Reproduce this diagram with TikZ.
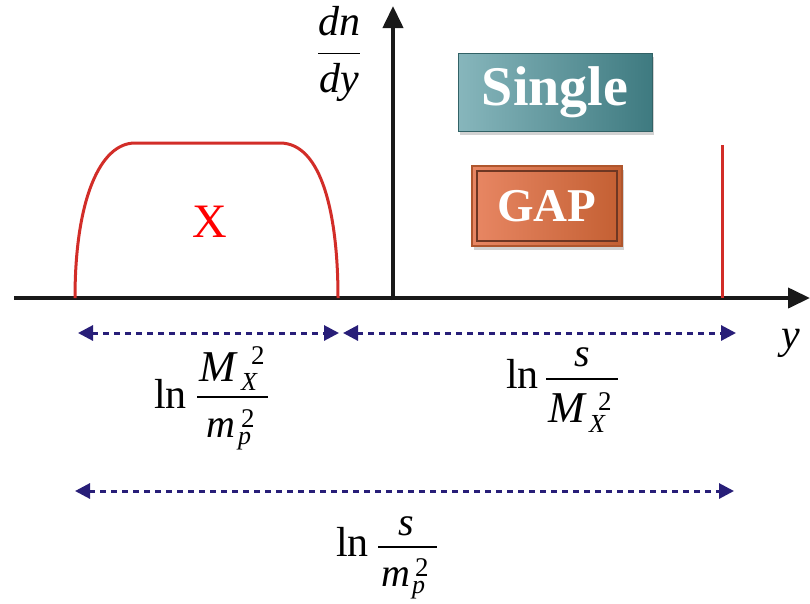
\RequirePackage{fix-cm}
\documentclass[tikz,border=0pt]{standalone}
\usepackage{amsmath}
\usepackage{fontspec}
\setmainfont{Liberation Serif}
\usetikzlibrary{arrows.meta,shadows}
\definecolor{curvered}{RGB}{210,45,40}
\definecolor{navy}{RGB}{40,30,120}
\definecolor{tealL}{RGB}{135,182,188}
\definecolor{tealD}{RGB}{62,122,128}
\definecolor{orL}{RGB}{232,135,100}
\definecolor{orD}{RGB}{195,95,50}
\definecolor{orB}{RGB}{110,55,35}
\tikzset{
  axis/.style={line width=4pt,black!90,-{Triangle[length=22pt,width=20pt]}},
  dimarrow/.style={line width=3pt,navy,dash pattern=on 6pt off 5pt,{Triangle[length=15pt,width=15pt]}-{Triangle[length=15pt,width=15pt]}},
  lnsty/.style={font=\fontsize{42}{44}\selectfont,inner sep=0pt,anchor=base west},
  bigit/.style={font=\fontsize{40}{42}\selectfont\itshape,inner sep=0pt,anchor=base west},
  bigM/.style={font=\fontsize{44}{46}\selectfont\itshape,inner sep=0pt,anchor=base west},
  smit/.style={font=\fontsize{26}{28}\selectfont\itshape,inner sep=0pt,anchor=base west},
  smrm/.style={font=\fontsize{27}{29}\selectfont,inner sep=0pt,anchor=base west},
  fracrule/.style={line width=2.2pt},
  badge/.style={font=\fontsize{#1}{#1}\selectfont\bfseries,text=white,inner sep=0pt},
}
\begin{document}
\begin{tikzpicture}[x=1pt,y=-1pt]
\useasboundingbox[fill=white] (0,0) rectangle (810,603);
% axes
\coordinate (xs) at (14,298);
\coordinate (xe) at (810,298);
\coordinate (ys) at (393,300);
\coordinate (ye) at (393,6);
\draw[axis] (xs) -- (xe);
\draw[axis] (ys) -- (ye);
% red curve
\coordinate (c0) at (75,298);
\coordinate (c1) at (135,143);
\coordinate (c2) at (280,143);
\coordinate (c3) at (338,298);
\draw[curvered,line width=3pt] (c0) .. controls (75,200) and (100,143) .. (c1) -- (c2) .. controls (322,143) and (338,215) .. (c3);
\node[text=red,font=\fontsize{48}{48}\selectfont] (X) at (210,222) {X};
% red spike
\coordinate (r0) at (722,145);
\coordinate (r1) at (722,298);
\draw[curvered,line width=3pt] (r0) -- (r1);
% axis labels
\node[font=\fontsize{42}{46}\selectfont,inner sep=0pt] (dndy) at (339,54) {$\dfrac{\textit{dn}}{\textit{dy}}$};
\node[font=\fontsize{42}{46}\selectfont,inner sep=0pt] (ylab) at (791,343) {\textit{y}};
% boxes
\node[drop shadow={shadow xshift=2pt,shadow yshift=-4pt,opacity=0.35},left color=tealL,right color=tealD,draw=tealD!80!black,line width=1pt,minimum width=194pt,minimum height=78pt,inner sep=0pt] (single) at (555,92) {};
\node[badge=56] at (single.center) {Single};
\node[drop shadow={shadow xshift=2pt,shadow yshift=-4pt,opacity=0.35},left color=orL,right color=orD,draw=orD!90!black,line width=2pt,minimum width=150pt,minimum height=80pt,inner sep=0pt] (gap) at (547,206) {};
\draw[orB,line width=1.5pt] ([shift={(6pt,6pt)}]gap.south west) rectangle ([shift={(-6pt,-6pt)}]gap.north east);
\node[badge=47] at (gap.center) {GAP};
% dimension arrows
\coordinate (a1) at (78,333);
\coordinate (a2) at (339,333);
\coordinate (a3) at (343,333);
\coordinate (a4) at (736,333);
\coordinate (b1) at (75,491);
\coordinate (b2) at (734,491);
\draw[dimarrow] (a1) -- (a2);
\draw[dimarrow] (a3) -- (a4);
\draw[dimarrow] (b1) -- (b2);
% label 1: ln M_X^2 / m_p^2
\node[lnsty] (l1ln) at (154,408) {ln};
\coordinate (l1a) at (197,397);
\coordinate (l1b) at (268,397);
\draw[fracrule] (l1a) -- (l1b);
\node[bigM] (l1M) at (199,381) {M};
\node[smrm] (l1s2) at (251,364) {2};
\node[smit] (l1X) at (241,390) {X};
\node[bigit] (l1m) at (206,437) {m};
\node[smrm] (l1d2) at (241,427) {2};
\node[smit] (l1p) at (238,444) {p};
% label 2: ln s / M_X^2
\node[lnsty] (l2ln) at (506,388) {ln};
\coordinate (l2a) at (546,379);
\coordinate (l2b) at (618,379);
\draw[fracrule] (l2a) -- (l2b);
\node[bigit] (l2s) at (574,366) {s};
\node[bigM] (l2M) at (548,422) {M};
\node[smrm] (l2d2) at (598,410) {2};
\node[smit] (l2X) at (589,432) {X};
% label 3: ln s / m_p^2
\node[lnsty] (l3ln) at (336,556) {ln};
\coordinate (l3a) at (378,547);
\coordinate (l3b) at (437,547);
\draw[fracrule] (l3a) -- (l3b);
\node[bigit] (l3s) at (398,535) {s};
\node[bigit] (l3m) at (381,586) {m};
\node[smrm] (l3d2) at (415,576) {2};
\node[smit] (l3p) at (412,593) {p};
\end{tikzpicture}
\end{document}
